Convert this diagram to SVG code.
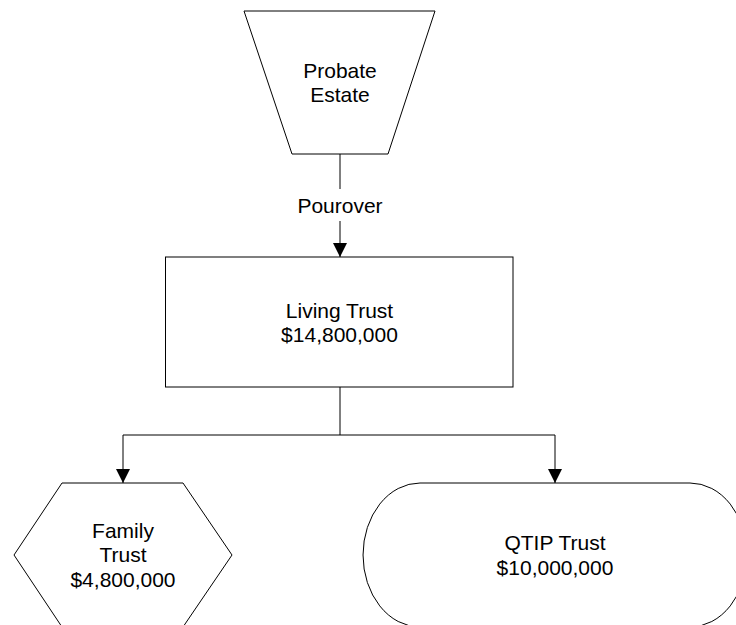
<svg xmlns="http://www.w3.org/2000/svg" width="736" height="625" viewBox="0 0 736 625">
<style>
.shape{fill:#fff;stroke:#000;stroke-width:1}
.lbl{font-family:"Liberation Sans",Arial,sans-serif;font-size:21px;fill:#000;text-anchor:middle}
.conn{fill:none;stroke:#000;stroke-width:1}
</style>
<defs>
<marker id="arr" markerWidth="14" markerHeight="14" refX="14" refY="7" orient="auto" markerUnits="userSpaceOnUse">
<path d="M0,0 L14,7 L0,14 Z" fill="#000"/>
</marker>
</defs>
<rect width="736" height="625" fill="#fff"/>
<g id="connectors">
<path class="conn" d="M340,154 V189"/>
<path class="conn" d="M340,221 V257" marker-end="url(#arr)"/>
<text class="lbl" x="340" y="213">Pourover</text>
<path class="conn" d="M340,387 V435"/>
<path class="conn" d="M123,435 H555"/>
<path class="conn" d="M123,435 V483" marker-end="url(#arr)"/>
<path class="conn" d="M555,435 V483" marker-end="url(#arr)"/>
</g>
<g id="probate">
<polygon class="shape" points="244,11 435,11 388,154 292,154"/>
<text class="lbl" x="340" y="78">Probate</text>
<text class="lbl" x="340" y="102">Estate</text>
</g>
<g id="living">
<rect class="shape" x="165.5" y="257" width="347.5" height="130"/>
<text class="lbl" x="339.5" y="318">Living Trust</text>
<text class="lbl" x="339.5" y="342">$14,800,000</text>
</g>
<g id="family">
<polygon class="shape" points="62,483 183,483 232,555 183,627 62,627 14,555"/>
<text class="lbl" x="123" y="538">Family</text>
<text class="lbl" x="123" y="562">Trust</text>
<text class="lbl" x="123" y="587">$4,800,000</text>
</g>
<g id="qtip">
<path class="shape" d="M420,483 H690 A57,72 0 0 1 690,627 H420 A57,72 0 0 1 420,483 Z"/>
<text class="lbl" x="555" y="550">QTIP Trust</text>
<text class="lbl" x="555" y="575">$10,000,000</text>
</g>
</svg>
